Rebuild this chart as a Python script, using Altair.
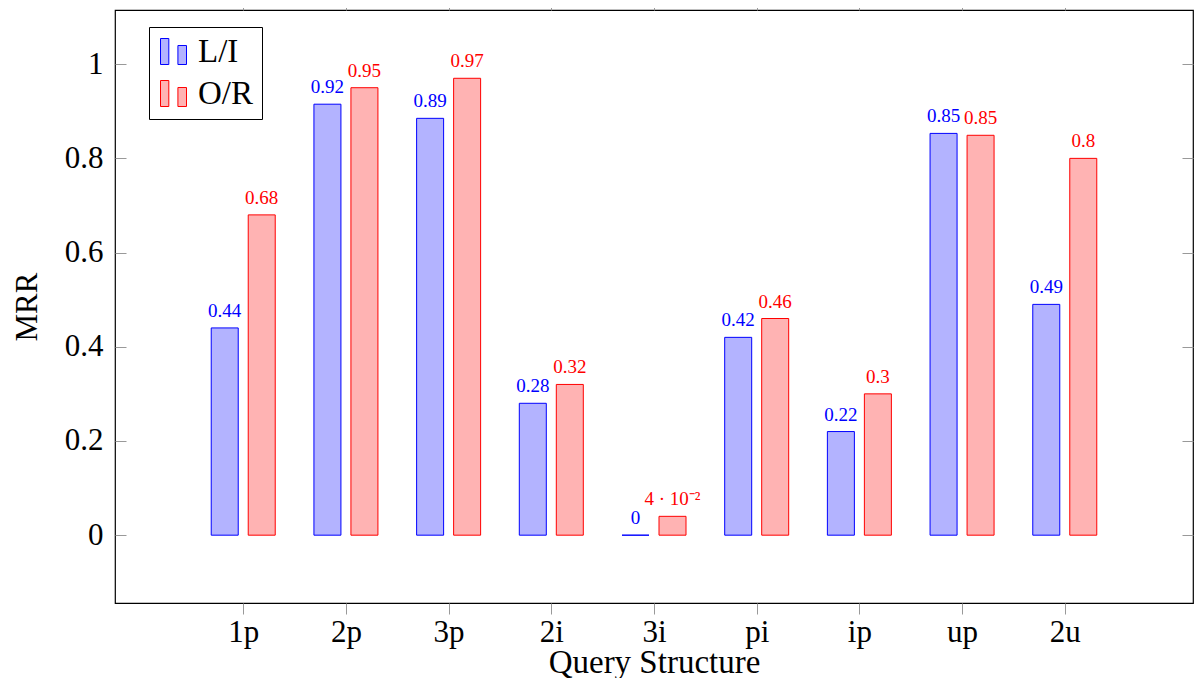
import altair as alt
import pandas as pd

categories = ["1p", "2p", "3p", "2i", "3i", "pi", "ip", "up", "2u"]
series_names = ["L/I", "O/R"]
li_values = [0.44, 0.915, 0.885, 0.28, 0.0, 0.42, 0.22, 0.853, 0.49]
or_values = [0.68, 0.95, 0.97, 0.32, 0.04, 0.46, 0.30, 0.849, 0.80]
li_labels = ["0.44", "0.92", "0.89", "0.28", "0", "0.42", "0.22", "0.85", "0.49"]
or_labels = ["0.68", "0.95", "0.97", "0.32", "4 · 10⁻²", "0.46", "0.3", "0.85", "0.8"]
y_ticks = [0, 0.2, 0.4, 0.6, 0.8, 1]

rows = []
for i, c in enumerate(categories):
    rows.append({"idx": i, "cat": c, "series": series_names[0], "value": li_values[i], "label": li_labels[i]})
    rows.append({"idx": i, "cat": c, "series": series_names[1], "value": or_values[i], "label": or_labels[i]})
df = pd.DataFrame(rows)

FONT = "Liberation Serif"
BLUE, RED = "#0000ff", "#ff0000"
BLUE_F, RED_F = "#b3b3ff", "#ffb3b3"
TICK = "#999999"

xscale = alt.Scale(domain=[-1.2, 9.2], nice=False, zero=False)
yscale = alt.Scale(domain=[-0.144, 1.115], nice=False, zero=False)
label_expr = "[" + ",".join("'%s'" % c for c in categories) + "][datum.value]"

x_main = alt.X("idx:Q", scale=xscale, axis=alt.Axis(
    values=list(range(len(categories))), labelExpr=label_expr, orient="bottom",
    title="Query Structure", grid=False, domain=False, tickColor=TICK, tickSize=11,
    labelFont=FONT, labelFontSize=31, labelColor="black", labelPadding=3,
    titleFont=FONT, titleFontSize=33, titleFontWeight="normal", titleColor="black",
    titleBaseline="alphabetic", titleY=69))
y_main = alt.Y("value:Q", scale=yscale, axis=alt.Axis(
    values=y_ticks, format="~g", orient="left", offset=-11, tickSize=11,
    tickColor=TICK, domain=False, grid=False, labelPadding=12,
    labelFont=FONT, labelFontSize=31, labelColor="black",
    title="MRR", titleFont=FONT, titleFontSize=31, titleFontWeight="normal",
    titleColor="black", titlePadding=21))
x_top = alt.X("idx:Q", scale=xscale, axis=alt.Axis(
    values=list(range(len(categories))), orient="top", labels=False, title=None,
    grid=False, domain=False, tickColor=TICK, tickSize=11))
y_right = alt.Y("value:Q", scale=yscale, axis=alt.Axis(
    values=y_ticks, orient="right", offset=-11, tickSize=11, labels=False, title=None,
    grid=False, domain=False, tickColor=TICK))
x_none = alt.X("idx:Q", scale=xscale, axis=None)
y_none = alt.Y("value:Q", scale=yscale, axis=None)

glyph = "M-1,-1H-0.36V1H-1Z M0.34,-0.46H1V1H0.34Z"
legend = alt.Legend(title=None, orient="none", legendX=34, legendY=17,
                    strokeColor="black", fillColor="white", padding=8,
                    symbolType=glyph, symbolSize=676, symbolStrokeWidth=1,
                    labelFont=FONT, labelFontSize=33, labelColor="black",
                    labelOffset=8, rowPadding=8, cornerRadius=0)
fill_enc = alt.Fill("series:N", scale=alt.Scale(domain=series_names, range=[BLUE_F, RED_F]), legend=legend)
stroke_enc = alt.Stroke("series:N", scale=alt.Scale(domain=series_names, range=[BLUE, RED]), legend=legend)

base = alt.Chart(df)
li = base.transform_filter(alt.datum.series == series_names[0])
orr = base.transform_filter(alt.datum.series == series_names[1])

bars_li = li.mark_bar(width=27, xOffset=-18.5, strokeWidth=1).encode(
    x=x_main, y=y_main, y2=alt.datum(0), fill=fill_enc, stroke=stroke_enc)
bars_or = orr.mark_bar(width=27, xOffset=18.5, strokeWidth=1).encode(
    x=x_none, y=y_none, y2=alt.datum(0), fill=fill_enc, stroke=stroke_enc)
text_li = li.mark_text(xOffset=-18.5, dy=-11, baseline="alphabetic", font=FONT,
                       fontSize=19, color=BLUE).encode(x=x_top, y=y_right, text="label:N")
text_or = orr.mark_text(xOffset=18.5, dy=-11, baseline="alphabetic", font=FONT,
                        fontSize=19, color=RED).encode(x=x_none, y=y_none, text="label:N")

chart = alt.layer(bars_li, bars_or, text_li, text_or).resolve_axis(
    x="independent", y="independent"
).properties(
    width=1078, height=593,
    autosize=alt.AutoSizeParams(type="none"),
    padding={"left": 107, "top": 2, "right": 1, "bottom": 75},
).configure_view(stroke="black", strokeWidth=1.2)

chart.save("out.html", embed_options={"renderer": "svg", "actions": False})
